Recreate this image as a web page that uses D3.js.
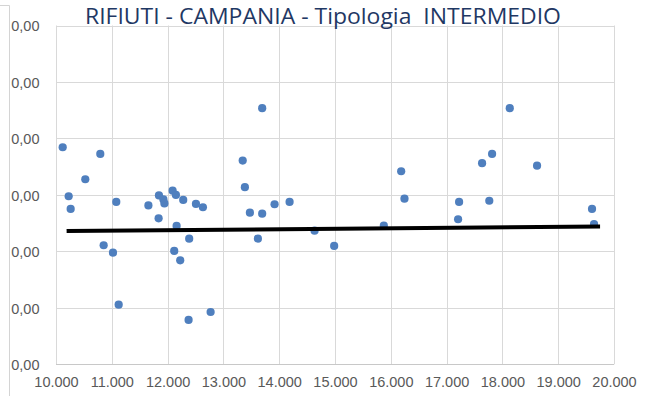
<!DOCTYPE html>
<html>
<head>
<meta charset="utf-8">
<script src="https://cdn.jsdelivr.net/npm/d3@7"></script>
<style>
  html, body { margin: 0; padding: 0; background: #fff; }
  svg { display: block; }
</style>
</head>
<body>
<svg id="chart" width="651" height="396"></svg>
<script>
// Scatter: waste per municipality (x) vs. value (y), with linear trend
const titleText = "RIFIUTI - CAMPANIA - Tipologia  INTERMEDIO";

const xValues = [
  10120, 10227, 10263, 10525, 10794, 10854, 11021, 11080, 11123, 11656,
  11845, 11925, 11943, 11839, 12090, 12149, 12280, 12161, 12119, 12226,
  12387, 12376, 12508, 12633, 12771, 13346, 13385, 13475, 13618, 13695,
  13695, 13917, 14186, 14634, 14985, 15875, 16186, 16245, 17206, 17224,
  17636, 17815, 17765, 18132, 18621, 19606, 19642
];
const yValues = [
  38.44, 29.76, 27.51, 32.77, 37.25, 21.08, 19.77, 28.75, 10.56, 28.13,
  29.90, 29.19, 28.49, 25.86, 30.75, 29.99, 29.11, 24.50, 20.07, 18.42,
  22.25, 7.85, 28.40, 27.81, 9.26, 36.07, 31.36, 26.86, 22.25, 45.35,
  26.68, 28.34, 28.75, 23.67, 20.96, 24.55, 34.19, 29.34, 25.69, 28.75,
  35.61, 37.25, 28.96, 45.35, 35.18, 27.51, 24.85
];

// Trend line end points
const trendX = [10190, 19750];
const trendY = [23.6, 24.4];

const xTicks = [10000, 11000, 12000, 13000, 14000, 15000, 16000, 17000, 18000, 19000, 20000];
const xTickLabels = ["10.000", "11.000", "12.000", "13.000", "14.000", "15.000",
                     "16.000", "17.000", "18.000", "19.000", "20.000"];
const yTicks = [0, 10, 20, 30, 40, 50, 60];
const yTickLabels = ["0,00", "0,00", "0,00", "0,00", "0,00", "0,00", "0,00"];

const svg = d3.select("#chart");
const margin = { left: 56, right: 37, top: 25.5, bottom: 31.7 };
const W = 651, H = 396;

const x = d3.scaleLinear().domain([10000, 20000]).range([margin.left, W - margin.right]);
const y = d3.scaleLinear().domain([0, 60]).range([H - margin.bottom, margin.top]);

const grid = "#d9d9d9";
const tickColor = "#595959";
const font = "'Liberation Sans', Arial, sans-serif";

// outer frame edge
svg.append("path")
  .attr("d", "M0,5.5H9.5V396")
  .attr("fill", "none")
  .attr("stroke", "#d4d4d4")
  .attr("stroke-width", 1);

// vertical gridlines
svg.append("g")
  .selectAll("line")
  .data(xTicks)
  .join("line")
  .attr("x1", d => Math.round(x(d)) + 0.5)
  .attr("x2", d => Math.round(x(d)) + 0.5)
  .attr("y1", y(60))
  .attr("y2", y(0))
  .attr("stroke", grid)
  .attr("stroke-width", 1);

// horizontal gridlines
svg.append("g")
  .selectAll("line")
  .data(yTicks)
  .join("line")
  .attr("x1", x(10000))
  .attr("x2", x(20000))
  .attr("y1", d => Math.round(y(d)) + 0.5)
  .attr("y2", d => Math.round(y(d)) + 0.5)
  .attr("stroke", d => d === 0 ? "#c8c8c8" : grid)
  .attr("stroke-width", 1);

// x axis labels
const xAxis = d3.axisBottom(x)
  .tickValues(xTicks)
  .tickFormat((d, i) => xTickLabels[i])
  .tickSize(0)
  .tickPadding(0);
const gx = svg.append("g")
  .attr("transform", `translate(0,${H - margin.bottom})`)
  .call(xAxis);
gx.select(".domain").remove();
gx.selectAll("text")
  .attr("dy", null)
  .attr("y", 22.5)
  .attr("fill", tickColor)
  .style("font-family", font)
  .style("font-size", "14.5px");

// y axis labels
const yAxis = d3.axisLeft(y)
  .tickValues(yTicks)
  .tickFormat((d, i) => yTickLabels[i])
  .tickSize(0)
  .tickPadding(0);
const gy = svg.append("g")
  .attr("transform", `translate(39.5,0)`)
  .call(yAxis);
gy.select(".domain").remove();
gy.selectAll("text")
  .attr("dy", "0.36em")
  .attr("fill", tickColor)
  .style("font-family", font)
  .style("font-size", "14.5px");

// points
const pts = xValues.map((v, i) => ({ x: v, y: yValues[i] }));
svg.append("g")
  .selectAll("circle")
  .data(pts)
  .join("circle")
  .attr("cx", d => x(d.x))
  .attr("cy", d => y(d.y))
  .attr("r", 4.1)
  .attr("fill", "#4f7fbe");

// trend line
const line = d3.line().x(d => x(d[0])).y(d => y(d[1]));
svg.append("path")
  .datum(trendX.map((v, i) => [v, trendY[i]]))
  .attr("d", line)
  .attr("fill", "none")
  .attr("stroke", "#000")
  .attr("stroke-width", 4);

// title
svg.append("text")
  .attr("x", 85)
  .attr("y", 23.5)
  .attr("textLength", 476)
  .attr("lengthAdjust", "spacingAndGlyphs")
  .attr("fill", "#1f3864")
  .style("font-family", "'Open Sans', 'Noto Sans', sans-serif")
  .style("font-size", "22.5px")
  .style("white-space", "pre")
  .text(titleText);
</script>
</body>
</html>
